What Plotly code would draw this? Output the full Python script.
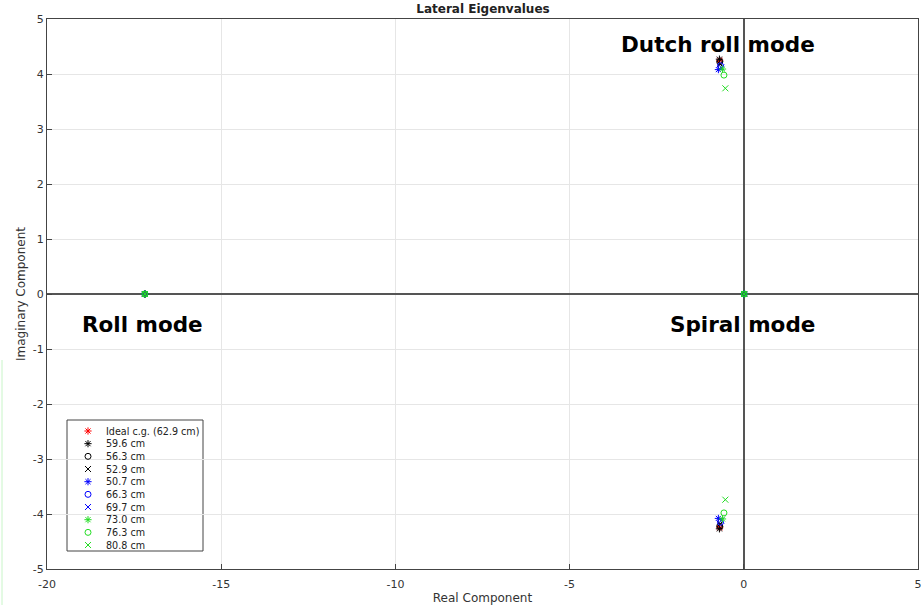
import plotly.graph_objects as go

# Lateral-directional eigenvalues for each c.g. location
cg_labels = ["Ideal c.g. (62.9 cm)", "59.6 cm", "56.3 cm", "52.9 cm", "50.7 cm",
             "66.3 cm", "69.7 cm", "73.0 cm", "76.3 cm", "80.8 cm"]
roll_re = [-17.19, -17.19, -17.19, -17.19, -17.19, -17.19, -17.19, -17.19, -17.19, -17.19]
spiral_re = [0.01, 0.01, 0.01, 0.01, 0.01, 0.01, 0.01, 0.01, 0.01, 0.01]
dutch_re = [-0.69, -0.70, -0.69, -0.68, -0.73, -0.67, -0.65, -0.61, -0.57, -0.53]
dutch_im = [4.25, 4.27, 4.22, 4.18, 4.08, 4.15, 4.12, 4.09, 3.98, 3.74]

marker_symbols = ["asterisk-open", "asterisk-open", "circle-open", "x-thin-open", "asterisk-open",
                  "circle-open", "x-thin-open", "asterisk-open", "circle-open", "x-thin-open"]
marker_colors = ["#ff0000", "#000000", "#000000", "#000000", "#0000ff",
                 "#0000ff", "#0000ff", "#22dd22", "#22dd22", "#22dd22"]

x_tickvals = [-20, -15, -10, -5, 0, 5]
x_ticktext = ["-20", "-15", "-10", "-5", "0", "5"]
y_tickvals = [-5, -4, -3, -2, -1, 0, 1, 2, 3, 4, 5]
y_ticktext = ["-5", "-4", "-3", "-2", "-1", "0", "1", "2", "3", "4", "5"]

# plot-area geometry in pixels
L, R, T, B = 47, 918, 19, 569
W, H = 922, 605

fig = go.Figure()

for i, name in enumerate(cg_labels):
    xs = [roll_re[i], spiral_re[i], dutch_re[i], dutch_re[i]]
    ys = [0, 0, dutch_im[i], -dutch_im[i]]
    fig.add_trace(go.Scatter(
        x=xs, y=ys, mode="markers", name=name, showlegend=False,
        marker=dict(symbol=marker_symbols[i], color=marker_colors[i], size=6,
                    line=dict(color=marker_colors[i], width=1)),
    ))

# Compact legend drawn on a pixel-scaled overlay axis
leg_x0, leg_x1, leg_y0, leg_y1 = 67, 203, 420, 551
row0, row_step = 431, 12.67
key_x, text_x = 88, 104
for i, name in enumerate(cg_labels):
    ry = row0 + row_step * i
    fig.add_trace(go.Scatter(
        x=[key_x], y=[ry], mode="markers", xaxis="x2", yaxis="y2", showlegend=False,
        hoverinfo="skip",
        marker=dict(symbol=marker_symbols[i], color=marker_colors[i], size=6,
                    line=dict(color=marker_colors[i], width=1)),
    ))
    fig.add_annotation(x=text_x, y=ry, xref="x2", yref="y2", text=name, showarrow=False,
                       xanchor="left", yanchor="middle",
                       font=dict(family="DejaVu Sans, sans-serif", size=9.6, color="#222222"))
fig.add_shape(type="rect", xref="x2", yref="y2", x0=leg_x0, x1=leg_x1, y0=leg_y0, y1=leg_y1,
              line=dict(color="#444444", width=1), fillcolor="white", layer="below")

axis_font = dict(family="DejaVu Sans, sans-serif", size=11, color="#333333")
title_font = dict(family="DejaVu Sans, sans-serif", size=12, color="#333333")

fig.update_layout(
    xaxis=dict(
        range=[-20, 5], tickvals=x_tickvals, ticktext=x_ticktext, automargin=False,
        showgrid=True, gridcolor="#e6e6e6", gridwidth=1,
        zeroline=True, zerolinecolor="#555555", zerolinewidth=1.5,
        showline=True, linecolor="#444444", linewidth=1, mirror=True,
        ticks="inside", ticklen=5, tickcolor="#444444", tickfont=axis_font,
        ticklabelstandoff=5,
        title=dict(text="Real Component", font=title_font, standoff=4),
    ),
    yaxis=dict(
        range=[-5, 5], tickvals=y_tickvals, ticktext=y_ticktext, automargin=False,
        showgrid=True, gridcolor="#e6e6e6", gridwidth=1,
        zeroline=True, zerolinecolor="#555555", zerolinewidth=1.5,
        showline=True, linecolor="#444444", linewidth=1, mirror=True,
        ticks="inside", ticklen=5, tickcolor="#444444", tickfont=axis_font,
        title=dict(text="Imaginary Component", font=title_font, standoff=4),
    ),
    xaxis2=dict(overlaying="x", range=[L, R], visible=False, fixedrange=True),
    yaxis2=dict(overlaying="y", range=[B, T], visible=False, fixedrange=True),
)

mode_font = dict(family="DejaVu Sans, sans-serif", size=21.5, color="#000000")
fig.add_annotation(x=-0.75, y=4.53, text="<b>Dutch roll mode</b>", showarrow=False, font=mode_font)
fig.add_annotation(x=-17.25, y=-0.55, text="<b>Roll mode</b>", showarrow=False, font=mode_font)
fig.add_annotation(x=-0.03, y=-0.55, text="<b>Spiral mode</b>", showarrow=False, font=mode_font)

# thin light-green edge line on the left margin
fig.add_shape(type="line", xref="paper", yref="paper",
              x0=(2 - L) / (R - L), x1=(2 - L) / (R - L),
              y0=(B - 605) / (B - T), y1=(B - 360) / (B - T),
              line=dict(color="#c8f5c8", width=1))

fig.update_layout(
    width=W, height=H,
    margin=dict(l=L, r=W - R, t=T, b=H - B, autoexpand=False),
    paper_bgcolor="white", plot_bgcolor="white",
    title=dict(text="<b>Lateral Eigenvalues</b>", x=(483 / W), xanchor="center",
               y=1 - 5 / H, yanchor="top",
               font=dict(family="DejaVu Sans, sans-serif", size=12, color="#222222")),
    showlegend=False,
)

fig.write_html("out.html")
